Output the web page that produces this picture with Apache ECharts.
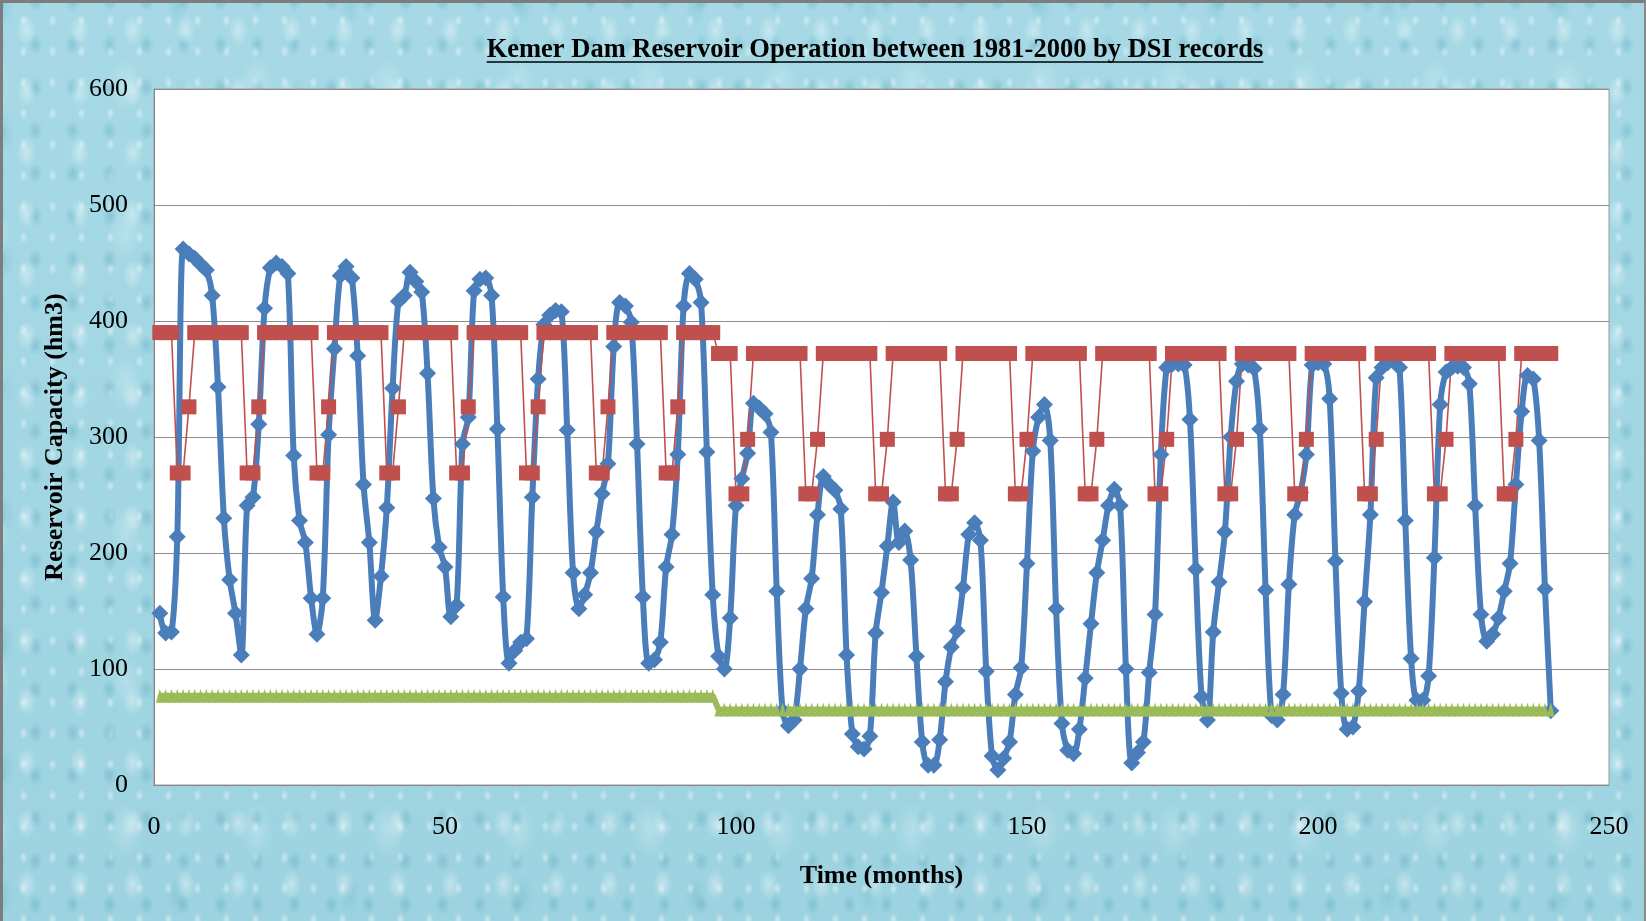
<!DOCTYPE html>
<html>
<head>
<meta charset="utf-8">
<script src="https://cdn.jsdelivr.net/npm/echarts@6/dist/echarts.min.js"></script>
<style>
  html, body { margin: 0; padding: 0; overflow: hidden; }
  #wrap {
    position: relative; width: 1646px; height: 921px;
    background-color: #9fd4e1;
    background-image:
      radial-gradient(ellipse 14px 22px at 50% 50%, rgba(255,255,255,0.38) 0%, rgba(255,255,255,0) 70%),
      radial-gradient(ellipse 10px 14px at 50% 50%, rgba(50,140,170,0.25) 0%, rgba(50,140,170,0) 75%),
      radial-gradient(ellipse 24px 40px at 50% 50%, rgba(225,245,250,0.32) 0%, rgba(225,245,250,0) 70%),
      radial-gradient(ellipse 6px 9px at 50% 50%, rgba(255,255,255,0.45) 0%, rgba(255,255,255,0) 70%),
      radial-gradient(ellipse 16px 30px at 50% 50%, rgba(70,160,190,0.18) 0%, rgba(70,160,190,0) 70%),
      linear-gradient(180deg, #a6d9e5 0%, #9dd3e0 100%);
    background-size: 53px 61px, 37px 43px, 131px 149px, 29px 31px, 173px 127px, 100% 100%;
    background-position: 0 0, 17px 23px, 60px 10px, 9px 5px, 90px 70px, 0 0;
  }
  #chart { position: absolute; left: 0; top: 0; width: 1646px; height: 921px; }
  #frame { position: absolute; left: 0; top: 0; width: 1646px; height: 921px; box-sizing: border-box;
    border-top: 3px solid #7d7d7d; border-left: 3px solid #7d7d7d; border-right: 2px solid #8a8a8a; pointer-events: none; }
</style>
</head>
<body>
<div id="wrap"><div id="chart"></div><div id="frame"></div></div>
<script>
// ---------- data ----------
const titleText = 'Kemer Dam Reservoir Operation between 1981-2000 by DSI records';
const xAxisName = 'Time (months)';
const yAxisName = 'Reservoir Capacity (hm3)';
const xTicks = [0, 50, 100, 150, 200, 250];
const yTicks = [0, 100, 200, 300, 400, 500, 600];

// month index (1..240)
const months = Array.from({ length: 240 }, (_, i) => i + 1);

const storage = [
  148, 131, 132, 214, 462, 458, 454, 449, 444, 422, 343, 230,
  177, 148, 112, 241, 248, 311, 411, 446, 450, 447, 441, 284,
  228, 209, 161, 130, 161, 302, 376, 439, 447, 437, 370, 259,
  209, 142, 180, 239, 342, 417, 422, 442, 434, 425, 355, 247,
  205, 188, 145, 155, 294, 317, 426, 436, 437, 422, 307, 162,
  105, 116, 123, 126, 248, 350, 397, 405, 409, 408, 306, 183,
  152, 164, 183, 218, 251, 277, 378, 416, 413, 399, 294, 162,
  105, 108, 123, 188, 216, 285, 413, 441, 436, 416, 287, 164,
  111, 100, 144, 241, 264, 286, 329, 325, 320, 304, 167, 64,
  51, 56, 100, 152, 178, 233, 266, 259, 254, 238, 112, 44,
  33, 31, 42, 131, 166, 206, 244, 209, 219, 194, 111, 37,
  17, 17, 39, 89, 119, 133, 170, 216, 226, 211, 98, 25,
  13, 23, 37, 78, 101, 191, 288, 317, 328, 297, 152, 53,
  30, 27, 48, 92, 139, 183, 211, 241, 255, 241, 100, 19,
  28, 37, 97, 147, 285, 360, 363, 363, 362, 315, 186, 76,
  56, 132, 175, 218, 300, 348, 363, 362, 359, 307, 168, 60,
  56, 78, 173, 233, 252, 285, 362, 364, 363, 333, 193, 79,
  48, 50, 81, 158, 233, 351, 360, 364, 366, 360, 228, 109,
  73, 73, 94, 196, 328, 356, 360, 361, 360, 346, 241, 147,
  124, 130, 144, 167, 191, 259, 322, 353, 350, 297, 169, 64
];

// upper rule curve (hm3)
const ruleCurve = [
  390, 390, 390, 269, 269, 326, 390, 390, 390, 390, 390, 390,
  390, 390, 390, 269, 269, 326, 390, 390, 390, 390, 390, 390,
  390, 390, 390, 269, 269, 326, 390, 390, 390, 390, 390, 390,
  390, 390, 390, 269, 269, 326, 390, 390, 390, 390, 390, 390,
  390, 390, 390, 269, 269, 326, 390, 390, 390, 390, 390, 390,
  390, 390, 390, 269, 269, 326, 390, 390, 390, 390, 390, 390,
  390, 390, 390, 269, 269, 326, 390, 390, 390, 390, 390, 390,
  390, 390, 390, 269, 269, 326, 390, 390, 390, 390, 390, 390,
  372, 372, 372, 251, 251, 298, 372, 372, 372, 372, 372, 372,
  372, 372, 372, 251, 251, 298, 372, 372, 372, 372, 372, 372,
  372, 372, 372, 251, 251, 298, 372, 372, 372, 372, 372, 372,
  372, 372, 372, 251, 251, 298, 372, 372, 372, 372, 372, 372,
  372, 372, 372, 251, 251, 298, 372, 372, 372, 372, 372, 372,
  372, 372, 372, 251, 251, 298, 372, 372, 372, 372, 372, 372,
  372, 372, 372, 251, 251, 298, 372, 372, 372, 372, 372, 372,
  372, 372, 372, 251, 251, 298, 372, 372, 372, 372, 372, 372,
  372, 372, 372, 251, 251, 298, 372, 372, 372, 372, 372, 372,
  372, 372, 372, 251, 251, 298, 372, 372, 372, 372, 372, 372,
  372, 372, 372, 251, 251, 298, 372, 372, 372, 372, 372, 372,
  372, 372, 372, 251, 251, 298, 372, 372, 372, 372, 372, 372
];

// minimum operating storage (hm3)
const minStorage = [
  77, 77, 77, 77, 77, 77, 77, 77, 77, 77, 77, 77,
  77, 77, 77, 77, 77, 77, 77, 77, 77, 77, 77, 77,
  77, 77, 77, 77, 77, 77, 77, 77, 77, 77, 77, 77,
  77, 77, 77, 77, 77, 77, 77, 77, 77, 77, 77, 77,
  77, 77, 77, 77, 77, 77, 77, 77, 77, 77, 77, 77,
  77, 77, 77, 77, 77, 77, 77, 77, 77, 77, 77, 77,
  77, 77, 77, 77, 77, 77, 77, 77, 77, 77, 77, 77,
  77, 77, 77, 77, 77, 77, 77, 77, 77, 77, 77, 77,
  65, 65, 65, 65, 65, 65, 65, 65, 65, 65, 65, 65,
  65, 65, 65, 65, 65, 65, 65, 65, 65, 65, 65, 65,
  65, 65, 65, 65, 65, 65, 65, 65, 65, 65, 65, 65,
  65, 65, 65, 65, 65, 65, 65, 65, 65, 65, 65, 65,
  65, 65, 65, 65, 65, 65, 65, 65, 65, 65, 65, 65,
  65, 65, 65, 65, 65, 65, 65, 65, 65, 65, 65, 65,
  65, 65, 65, 65, 65, 65, 65, 65, 65, 65, 65, 65,
  65, 65, 65, 65, 65, 65, 65, 65, 65, 65, 65, 65,
  65, 65, 65, 65, 65, 65, 65, 65, 65, 65, 65, 65,
  65, 65, 65, 65, 65, 65, 65, 65, 65, 65, 65, 65,
  65, 65, 65, 65, 65, 65, 65, 65, 65, 65, 65, 65,
  65, 65, 65, 65, 65, 65, 65, 65, 65, 65, 65, 65
];

// ---------- layout / style ----------
const SERIF = '"Liberation Serif", "Times New Roman", serif';
const titleFontSize = 26.5;
const titleCenterX = 875;
const underlineY = 62;

function measure(txt, font) {
  const c = document.createElement('canvas').getContext('2d');
  c.font = font;
  return c.measureText(txt).width;
}
const titleW = measure(titleText, 'bold ' + titleFontSize + 'px "Liberation Serif"');

const chart = echarts.init(document.getElementById('chart'), null, { renderer: 'canvas' });

const pairs = arr => months.map((m, i) => [m, arr[i]]);

const option = {
  backgroundColor: 'transparent',
  animation: false,
  title: {
    text: titleText,
    left: titleCenterX - titleW / 2,
    top: 37,
    padding: 0,
    textStyle: { fontFamily: SERIF, fontWeight: 'bold', fontSize: titleFontSize, color: '#000' }
  },
  grid: {
    left: 154, right: 37, top: 89, bottom: 136,
    show: true, backgroundColor: '#ffffff', borderColor: '#9a9a9a', borderWidth: 1
  },
  xAxis: {
    type: 'value',
    min: xTicks[0], max: xTicks[xTicks.length - 1], interval: xTicks[1] - xTicks[0],
    name: xAxisName, nameLocation: 'middle', nameGap: 78,
    nameTextStyle: { fontFamily: SERIF, fontWeight: 'bold', fontSize: 26, color: '#000' },
    axisLine: { show: true, lineStyle: { color: '#868686', width: 1 } },
    axisTick: { show: false },
    splitLine: { show: false },
    axisLabel: { fontFamily: SERIF, fontSize: 26, color: '#000', margin: 29 }
  },
  yAxis: {
    type: 'value',
    min: yTicks[0], max: yTicks[yTicks.length - 1], interval: yTicks[1] - yTicks[0],
    name: yAxisName, nameLocation: 'middle', nameRotate: 90, nameGap: 86,
    nameTextStyle: { fontFamily: SERIF, fontWeight: 'bold', fontSize: 26, color: '#000' },
    axisLine: { show: true, lineStyle: { color: '#868686', width: 1 } },
    axisTick: { show: false },
    splitLine: { show: true, lineStyle: { color: '#8c8c8c', width: 1 } },
    axisLabel: { fontFamily: SERIF, fontSize: 26, color: '#000', margin: 26 }
  },
  series: [
    {
      name: 'Storage', type: 'line', data: pairs(storage),
      smooth: 0.3, symbol: 'diamond', symbolSize: 17, showAllSymbol: true,
      lineStyle: { color: '#4a7ebb', width: 6 },
      itemStyle: { color: '#4a7ebb' }
    },
    {
      name: 'Rule curve', type: 'line', data: pairs(ruleCurve),
      symbol: 'rect', symbolSize: 15, showAllSymbol: true,
      lineStyle: { color: '#c0504d', width: 1.6 },
      itemStyle: { color: '#c0504d' }
    },
    {
      name: 'Minimum', type: 'line', data: pairs(minStorage),
      symbol: 'triangle', symbolSize: [8, 14], showAllSymbol: true,
      lineStyle: { color: '#9bbb59', width: 6 },
      itemStyle: { color: '#9bbb59' }
    }
  ],
  graphic: [
    {
      type: 'line',
      shape: { x1: titleCenterX - titleW / 2, y1: underlineY, x2: titleCenterX + titleW / 2, y2: underlineY },
      style: { stroke: '#000', lineWidth: 1.6 }
    }
  ]
};
chart.setOption(option);
</script>
</body>
</html>
